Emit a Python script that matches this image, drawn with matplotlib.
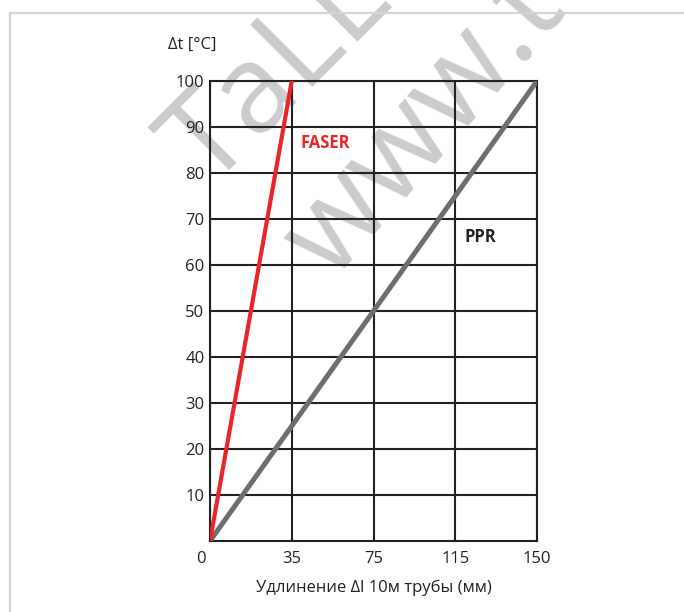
import matplotlib.pyplot as plt
import matplotlib.patches as mpatches
import matplotlib.transforms as mtransforms

plt.rcParams['font.family'] = ['Open Sans', 'DejaVu Sans']

# data
x_ticks = [0, 35, 75, 115, 150]
y_ticks = [10, 20, 30, 40, 50, 60, 70, 80, 90, 100]
faser_dl = [0, 35]
faser_dt = [0, 100]
ppr_dl = [0, 150]
ppr_dt = [0, 100]


def to_pos(vals):
    # ticks are evenly spaced on the chart
    return [x_ticks.index(v) for v in vals]


W, H = 684, 612
fig = plt.figure(figsize=(W / 100, H / 100), dpi=100)

# light frame around the picture
fig.patches.append(mpatches.Rectangle((10 / W, -0.1), 1.2, 1 - 13 / H + 0.1,
                                      transform=fig.transFigure, fill=False,
                                      edgecolor='#d4d4d4', linewidth=1.6))

# watermark (behind the chart)
fig.text(209 / W, 1 - 189 / H, 'TaLL', fontsize=88, color='#cccccc', rotation=45,
         rotation_mode='anchor', ha='left', va='baseline', zorder=0)
fig.text(332 / W, 1 - 282 / H, 'www.t', fontsize=88, color='#cccccc', rotation=49,
         rotation_mode='anchor', ha='left', va='baseline', zorder=0)

ax = fig.add_axes([210 / W, 1 - 541 / H, 327 / W, 460 / H])
ax.set_zorder(1)
ax.patch.set_alpha(0)

ax.set_xlim(0, len(x_ticks) - 1)
ax.set_ylim(0, 100)
ax.set_xticks(range(len(x_ticks)))
ax.set_xticklabels([str(v) for v in x_ticks])
ax.set_yticks(y_ticks)
ax.set_yticklabels([str(v) for v in y_ticks])
ax.tick_params(length=0, labelsize=12, colors='#222222')
ax.tick_params(axis='x', pad=7)
ax.tick_params(axis='y', pad=4)
lab0 = ax.get_xticklabels()[0]
lab0.set_transform(lab0.get_transform() +
                   mtransforms.ScaledTranslation(-9 / 100, 0, fig.dpi_scale_trans))

for s in ax.spines.values():
    s.set_color('#222222')
    s.set_linewidth(1.5)
ax.grid(True, color='#222222', linewidth=1.5)

ax.plot(to_pos(ppr_dl), ppr_dt, color='#6e6e70', linewidth=3.6,
        solid_capstyle='round', zorder=3)
ax.plot(to_pos(faser_dl), faser_dt, color='#e8262a', linewidth=3.0,
        solid_capstyle='round', zorder=4)

ax.text(1.11, 85.5, 'FASER', color='#e8262a', fontsize=12, fontweight='bold')
ax.text(3.11, 65, 'PPR', color='#222222', fontsize=12, fontweight='bold')

fig.text(192 / W, 1 - 45 / H, 'Δt [°C]', fontsize=12, color='#222222',
         ha='center', va='center')
fig.text(374 / W, 1 - 588 / H, 'Удлинение Δl 10м трубы (мм)', fontsize=12,
         color='#222222', ha='center', va='center')

fig.savefig('out.png', dpi=100)
